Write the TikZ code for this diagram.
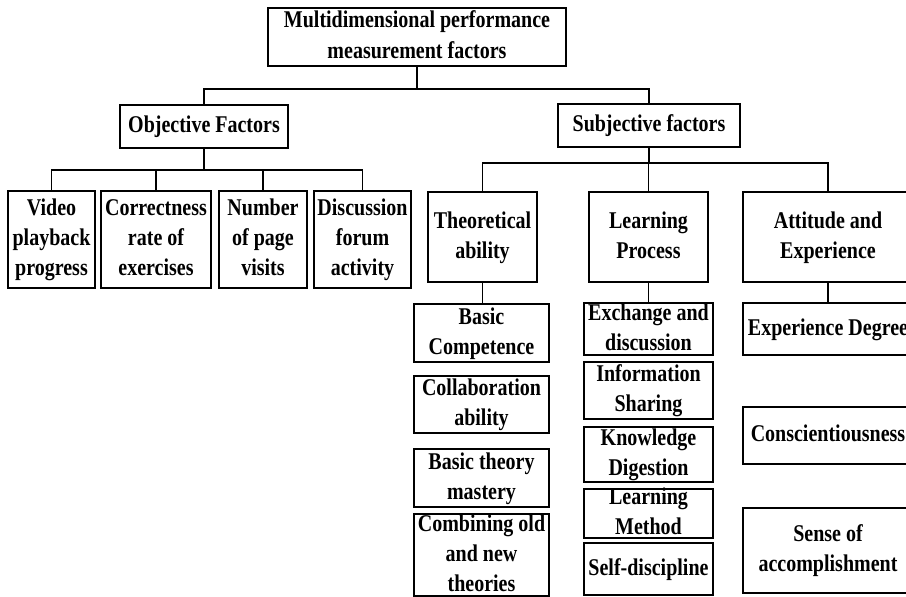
\documentclass[tikz,border=0pt]{standalone}
\usepackage{fontspec}
\usepackage{graphicx}
\setmainfont{Liberation Serif}
\newcommand{\vt}[1]{\scalebox{1}[1.2]{\fontsize{20}{25}\selectfont\bfseries\begin{tabular}{@{}c@{}}#1\end{tabular}}}
\newcommand{\bx}[5]{\node[box,minimum width=#3pt,minimum height=#4pt] (#1) at (#2) {};
  \node[txt] (#1t) at (#1.center) {\vt{#5}};}
\begin{document}
\begin{tikzpicture}[x=1pt,y=-1pt,
  box/.style={draw,line width=1.6pt,inner sep=0pt},
  txt/.style={inner sep=0pt},
  conn/.style={line width=1.3pt}]
\useasboundingbox (0,0) rectangle (906,597);
\clip (0,0) rectangle (906,597);
% level 0 and 1
\bx{top}{417,37}{298}{58}{Multidimensional performance\\measurement factors}
\bx{obj}{204,126.5}{168}{43}{Objective Factors}
\bx{subj}{649,125.5}{182}{43}{Subjective factors}
% objective children
\bx{video}{51.5,239.5}{87}{97}{Video\\playback\\progress}
\bx{correct}{156,239.5}{110}{97}{Correctness\\rate of\\exercises}
\bx{number}{263,239.5}{88}{97}{Number\\of page\\visits}
\bx{discuss}{362.5,239.5}{97}{97}{Discussion\\forum\\activity}
% subjective children
\bx{theo}{482.5,237}{109}{90}{Theoretical\\ability}
\bx{learn}{648.5,237}{119}{90}{Learning\\Process}
\bx{att}{828,237}{170}{90}{Attitude and\\Experience}
% theoretical column
\bx{bc}{481.5,333}{135}{58}{Basic\\Competence}
\bx{col}{481.5,404.5}{135}{57}{Collaboration\\ability}
\bx{btm}{481.5,478}{135}{58}{Basic theory\\mastery}
\bx{comb}{481.5,555}{135}{82}{Combining old\\and new\\theories}
% learning column
\bx{exch}{648.5,329}{129}{52}{Exchange and\\discussion}
\bx{info}{648.5,390.5}{129}{57}{Information\\Sharing}
\bx{know}{648.5,454.5}{129}{55}{Knowledge\\Digestion}
\bx{lm}{648.5,513.5}{129}{49}{Learning\\Method}
\bx{self}{648.5,569}{129}{52}{Self-discipline}
% attitude column
\bx{expd}{828,329}{170}{52}{Experience Degree}
\bx{consc}{828,435.5}{170}{57}{Conscientiousness}
\bx{sense}{828,550.5}{170}{85}{Sense of\\accomplishment}
% junctions
\coordinate (j1) at (417,89);
\coordinate (j2) at (204,170);
\coordinate (j3) at (649,163);
% connectors
\draw[conn] (top.south) -- (j1);
\draw[conn] (obj.north) |- (j1) -| (subj.north);
\draw[conn] (obj.south) -- (j2);
\draw[conn] (video.north) |- (j2) -| (discuss.north);
\draw[conn] (correct.north) |- (j2);
\draw[conn] (number.north) |- (j2);
\draw[conn] (subj.south) -- (j3);
\draw[conn] (theo.north) |- (j3) -| (att.north);
\draw[conn] (learn.north) |- (j3);
\draw[conn] (theo.south) -- (theo.south |- bc.north);
\draw[conn] (learn.south) -- (learn.south |- exch.north);
\draw[conn] (att.south) -- (att.south |- expd.north);
\end{tikzpicture}
\end{document}
